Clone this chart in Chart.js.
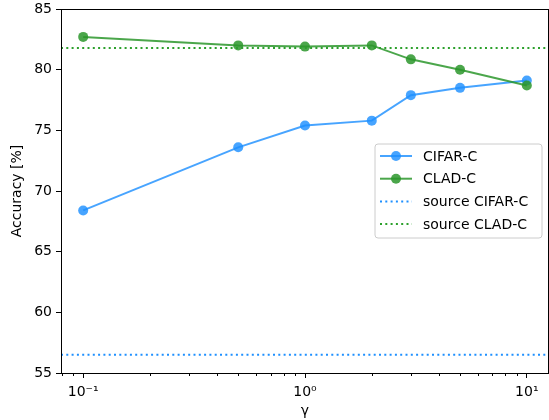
<!DOCTYPE html>
<html>
<head>
<meta charset="utf-8">
<script src="https://cdn.jsdelivr.net/npm/chart.js@4"></script>
<style>
  html, body { margin: 0; padding: 0; background: #fff; }
  #wrap { width: 549px; height: 420px; }
</style>
</head>
<body>
<div id="wrap"><canvas id="c" width="549" height="420"></canvas></div>
<script>
// ---- data ----
const gammas = [0.1, 0.5, 1, 2, 3, 5, 10];
const cifarAcc = [68.4, 73.6, 75.4, 75.8, 77.9, 78.5, 79.1];
const cladAcc = [82.7, 82.0, 81.9, 82.0, 80.85, 80.0, 78.7];
const sourceCifarAcc = 56.5;
const sourceCladAcc = 81.78;
const seriesLabels = ['CIFAR-C', 'CLAD-C', 'source CIFAR-C', 'source CLAD-C'];
const yTickValues = [55, 60, 65, 70, 75, 80, 85];
const xMajorTicks = [0.1, 1, 10];
const xTickLabels = ['10\u207B\u00B9', '10\u2070', '10\u00B9'];
const xLimits = [Math.pow(10, -1.1), Math.pow(10, 1.1)];
const yLimits = [55, 85];

// ---- styles ----
const FONT = 'DejaVu Sans';
const blue = 'rgba(30,144,255,0.82)';
const green = 'rgba(44,150,44,0.85)';
const blueDot = '#1e90ff';
const greenDot = '#2ca02c';

const pts = (ys) => gammas.map((g, i) => ({x: g, y: ys[i]}));
const hline = (v) => xLimits.map(x => ({x, y: v}));

const framePlugin = {
  id: 'frame',
  afterDraw(chart) {
    const {ctx, chartArea: a, scales} = chart;
    ctx.save();
    ctx.strokeStyle = '#000';
    ctx.lineWidth = 1;
    ctx.strokeRect(Math.round(a.left) + 0.5, Math.round(a.top) + 0.5,
                   Math.round(a.right - a.left) - 1, Math.round(a.bottom - a.top));
    // minor log ticks
    const xs = scales.x;
    ctx.beginPath();
    for (let d = -2; d <= 1; d++) {
      for (let m = 2; m <= 9; m++) {
        const v = m * Math.pow(10, d);
        if (v < xLimits[0] || v > xLimits[1]) continue;
        const px = Math.round(xs.getPixelForValue(v)) + 0.5;
        ctx.moveTo(px, a.bottom);
        ctx.lineTo(px, a.bottom + 3);
      }
    }
    ctx.stroke();
    ctx.restore();
  }
};

const legendPlugin = {
  id: 'mplLegend',
  afterDraw(chart) {
    const {ctx} = chart;
    const bx = 375, by = 144, bw = 167, bh = 94, r = 3;
    ctx.save();
    ctx.beginPath();
    ctx.moveTo(bx + r, by);
    ctx.arcTo(bx + bw, by, bx + bw, by + bh, r);
    ctx.arcTo(bx + bw, by + bh, bx, by + bh, r);
    ctx.arcTo(bx, by + bh, bx, by, r);
    ctx.arcTo(bx, by, bx + bw, by, r);
    ctx.closePath();
    ctx.fillStyle = 'rgba(255,255,255,0.8)';
    ctx.fill();
    ctx.strokeStyle = '#cccccc';
    ctx.lineWidth = 1;
    ctx.stroke();
    const order = [0, 1, 2, 3];
    order.forEach((di, row) => {
      const ds = chart.data.datasets[di];
      const y = 156 + row * 22.7;
      ctx.beginPath();
      ctx.setLineDash(ds.borderDash || []);
      ctx.strokeStyle = ds.borderColor;
      ctx.lineWidth = ds.borderWidth;
      ctx.moveTo(380, y);
      ctx.lineTo(412, y);
      ctx.stroke();
      ctx.setLineDash([]);
      if (ds.pointRadius > 0) {
        ctx.beginPath();
        ctx.arc(396, y, ds.pointRadius, 0, Math.PI * 2);
        ctx.fillStyle = ds.pointBackgroundColor;
        ctx.fill();
      }
      ctx.fillStyle = '#000';
      ctx.font = '14px "' + FONT + '"';
      ctx.textBaseline = 'middle';
      ctx.textAlign = 'left';
      ctx.fillText(ds.label, 423, y + 1);
    });
    ctx.restore();
  }
};

new Chart(document.getElementById('c'), {
  type: 'line',
  data: {
    datasets: [
      { label: seriesLabels[0], data: pts(cifarAcc), borderColor: blue, backgroundColor: blue,
        pointBackgroundColor: blue, pointBorderColor: blue, pointBorderWidth: 0,
        borderWidth: 2, pointRadius: 5, order: 3 },
      { label: seriesLabels[1], data: pts(cladAcc), borderColor: green, backgroundColor: green,
        pointBackgroundColor: green, pointBorderColor: green, pointBorderWidth: 0,
        borderWidth: 2, pointRadius: 5, order: 2 },
      { label: seriesLabels[2], data: hline(sourceCifarAcc), borderColor: blueDot,
        borderDash: [2, 3.3], borderWidth: 2, pointRadius: 0, order: 1 },
      { label: seriesLabels[3], data: hline(sourceCladAcc), borderColor: greenDot,
        borderDash: [2, 3.3], borderWidth: 2, pointRadius: 0, order: 0 }
    ]
  },
  options: {
    responsive: false,
    animation: false,
    devicePixelRatio: 1,
    layout: { autoPadding: false, padding: { top: 9, right: 0, left: 0, bottom: 0 } },
    plugins: { legend: { display: false }, tooltip: { enabled: false } },
    elements: { line: { tension: 0 } },
    scales: {
      x: {
        type: 'logarithmic',
        min: xLimits[0], max: xLimits[1],
        afterBuildTicks: (s) => { s.ticks = xMajorTicks.map(v => ({value: v})); },
        afterFit: (s) => { s.height = 47; s.paddingLeft = 0; s.paddingRight = 0; },
        grid: { drawOnChartArea: false, tickLength: 5, tickColor: '#000', tickWidth: 1 },
        border: { color: '#000', width: 1 },
        ticks: {
          color: '#000', font: { family: FONT, size: 14 }, padding: 6, maxRotation: 0, autoSkip: false,
          callback: (v) => { const i = xMajorTicks.indexOf(v); return i >= 0 ? xTickLabels[i] : ''; }
        },
        title: { display: true, text: '\u03B3', color: '#000', font: { family: FONT, size: 14 },
                 padding: { top: 0, bottom: 0 } }
      },
      y: {
        type: 'linear',
        min: yLimits[0], max: yLimits[1],
        afterBuildTicks: (s) => { s.ticks = yTickValues.map(v => ({value: v})); },
        afterFit: (s) => { s.width = 61; s.paddingTop = 0; s.paddingBottom = 0; },
        grid: { drawOnChartArea: false, tickLength: 5, tickColor: '#000', tickWidth: 1 },
        border: { color: '#000', width: 1 },
        ticks: { color: '#000', font: { family: FONT, size: 14 }, padding: 4 },
        title: { display: true, text: 'Accuracy [%]', color: '#000', font: { family: FONT, size: 14 },
                 padding: { top: 9, bottom: 0 } }
      }
    }
  },
  plugins: [framePlugin, legendPlugin]
});
</script>
</body>
</html>
